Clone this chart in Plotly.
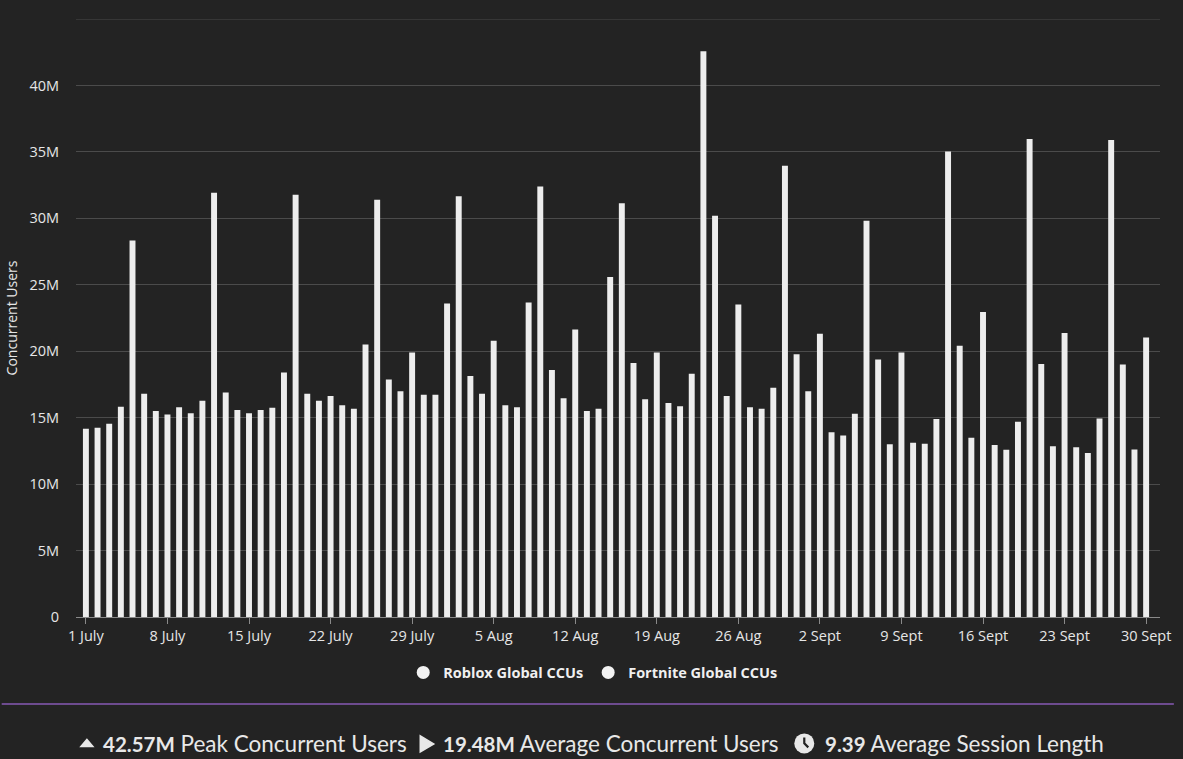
import pandas as pd
import plotly.graph_objects as go

# ---------------- data ----------------
start_date = "2024-07-01"
end_date = "2024-09-30"
days = pd.date_range(start_date, end_date, freq="D")

ccu_millions = [
    14.17, 14.25, 14.55, 15.83, 28.34, 16.80, 15.50, 15.23, 15.78, 15.33,
    16.28, 31.92, 16.90, 15.58, 15.33, 15.58, 15.75, 18.40, 31.77, 16.80,
    16.28, 16.63, 15.93, 15.68, 20.51, 31.40, 17.88, 16.98, 19.91, 16.73,
    16.73, 23.59, 31.67, 18.13, 16.80, 20.78, 15.93, 15.78, 23.66, 32.40,
    18.58, 16.46, 21.64, 15.50, 15.68, 25.59, 31.14, 19.11, 16.38, 19.91,
    16.10, 15.85, 18.30, 42.57, 30.19, 16.63, 23.51, 15.78, 15.68, 17.25,
    33.95, 19.78, 16.98, 21.31, 13.90, 13.65, 15.30, 29.82, 19.38, 13.00,
    19.91, 13.12, 13.03, 14.90, 35.02, 20.41, 13.48, 22.96, 12.95, 12.58,
    14.70, 35.97, 19.03, 12.85, 21.38, 12.78, 12.35, 14.93, 35.90, 19.01,
    12.60, 21.04,
]

tick_dates = ["2024-07-01", "2024-07-08", "2024-07-15", "2024-07-22", "2024-07-29",
              "2024-08-05", "2024-08-12", "2024-08-19", "2024-08-26", "2024-09-02",
              "2024-09-09", "2024-09-16", "2024-09-23", "2024-09-30"]
tick_labels = ["1 July", "8 July", "15 July", "22 July", "29 July", "5 Aug", "12 Aug",
               "19 Aug", "26 Aug", "2 Sept", "9 Sept", "16 Sept", "23 Sept", "30 Sept"]

y_tick_vals = [0, 5e6, 10e6, 15e6, 20e6, 25e6, 30e6, 35e6, 40e6, 45e6]
y_tick_text = ["0", "5M", "10M", "15M", "20M", "25M", "30M", "35M", "40M", ""]
y_max = 45e6

legend_names = ["Roblox Global CCUs", "Fortnite Global CCUs"]

peak_value = "42.57M"
avg_value = "19.48M"
session_value = "9.39"

# ---------------- figure ----------------
BG = "#232323"
GRID = "#4b4b4b"
W, H = 1183, 759
ML, MR, MT, MB = 75, 14, 19, 141.5
PW = W - ML - MR
PH = H - MT - MB


def px_x(px):
    return (px - ML) / PW


def px_y(py):
    return (H - MB - py) / PH


fig = go.Figure()
fig.add_trace(go.Bar(
    x=days,
    y=[v * 1e6 for v in ccu_millions],
    marker=dict(color="#ededed", line=dict(width=0)),
    showlegend=False,
    name=legend_names[0],
))
for nm in legend_names:
    fig.add_trace(go.Scatter(
        x=[None], y=[None], mode="markers", name=nm,
        marker=dict(symbol="circle", size=13, color="#f2f2f2"),
    ))

x0 = days[0] - pd.Timedelta(hours=20.4)
x1 = days[-1] + pd.Timedelta(hours=28.6)

fig.update_layout(
    width=W, height=H,
    paper_bgcolor=BG, plot_bgcolor=BG,
    margin=dict(l=ML, r=MR, t=MT, b=MB),
    bargap=0.49,
    font=dict(family="Open Sans", color="#e6e6e6", size=14),
    xaxis=dict(
        type="date", range=[x0, x1],
        tickvals=tick_dates, ticktext=tick_labels,
        showgrid=False, ticks="outside", ticklen=6, tickcolor="#8a8a8a",
        showline=True, linecolor="#8a8a8a", linewidth=1,
        tickfont=dict(size=14.5, color="#e6e6e6"),
        zeroline=False,
    ),
    yaxis=dict(
        range=[0, y_max], tickvals=y_tick_vals, ticktext=y_tick_text,
        showgrid=True, gridcolor=GRID, gridwidth=1,
        zeroline=False, showline=False,
        tickfont=dict(size=14.5, color="#e6e6e6"),
        ticklabelstandoff=16,
        title=dict(text="Concurrent Users", font=dict(size=14, color="#e6e6e6"), standoff=8),
    ),
    legend=dict(
        orientation="h", x=px_x(597), xanchor="center", y=px_y(673), yanchor="middle",
        font=dict(size=14.5, color="#f0f0f0", family="Open Sans", weight="bold"),
        bgcolor="rgba(0,0,0,0)", itemwidth=30,
    ),
)

# top gridline (at the range edge plotly omits it)
fig.add_shape(type="line", xref="paper", yref="y", x0=0, x1=1, y0=y_max, y1=y_max,
              line=dict(color=GRID, width=1), layer="below")

# purple separator line
fig.add_shape(type="line", xref="paper", yref="paper",
              x0=px_x(0), x1=px_x(W), y0=px_y(704.5), y1=px_y(704.5),
              line=dict(color="#6d4b8f", width=2))

ICON = "#e8e8e8"
stat_font = dict(family="Lato", size=22.5, color="#e8e8e8")
num_style = "font-size:20.5px"
yb = px_y(744)

# up-triangle icon
fig.add_shape(type="path", xref="paper", yref="paper", xsizemode="pixel", ysizemode="pixel",
              xanchor=px_x(86), yanchor=px_y(744),
              path="M -6,-3 L 6,-3 L 0,4 Z", fillcolor=ICON,
              line=dict(color=ICON, width=1.5))
fig.add_annotation(xref="paper", yref="paper", x=px_x(100), y=yb, xanchor="left",
                   yanchor="middle", showarrow=False, font=stat_font,
                   text=f"<b><span style='{num_style}'>{peak_value}</span></b> Peak Concurrent Users")
# play icon
fig.add_shape(type="path", xref="paper", yref="paper", xsizemode="pixel", ysizemode="pixel",
              xanchor=px_x(429), yanchor=px_y(744.5),
              path="M -6.5,-8 L -6.5,8 L 7,0 Z", fillcolor=ICON,
              line=dict(color=ICON, width=1.5))
fig.add_annotation(xref="paper", yref="paper", x=px_x(443), y=yb, xanchor="left",
                   yanchor="middle", showarrow=False, font=stat_font,
                   text=f"<b><span style='{num_style}'>{avg_value}</span></b> Average Concurrent Users")
# clock icon
cx, cy = px_x(810), px_y(744)
fig.add_shape(type="circle", xref="paper", yref="paper", xsizemode="pixel", ysizemode="pixel",
              xanchor=cx, yanchor=cy, x0=-10, x1=10, y0=-10, y1=10,
              fillcolor=ICON, line=dict(width=0))
fig.add_shape(type="path", xref="paper", yref="paper", xsizemode="pixel", ysizemode="pixel",
              xanchor=cx, yanchor=cy, path="M 0,6 L 0,0 L 4,-4",
              line=dict(color=BG, width=2.2))
fig.add_annotation(xref="paper", yref="paper", x=px_x(829), y=yb, xanchor="left",
                   yanchor="middle", showarrow=False, font=stat_font,
                   text=f"<b><span style='{num_style}'>{session_value}</span></b> Average Session Length")

fig.write_html(
    "out.html",
    config={"displayModeBar": False},
    post_script="document.body.style.margin='0';document.body.style.background='#232323';",
)
